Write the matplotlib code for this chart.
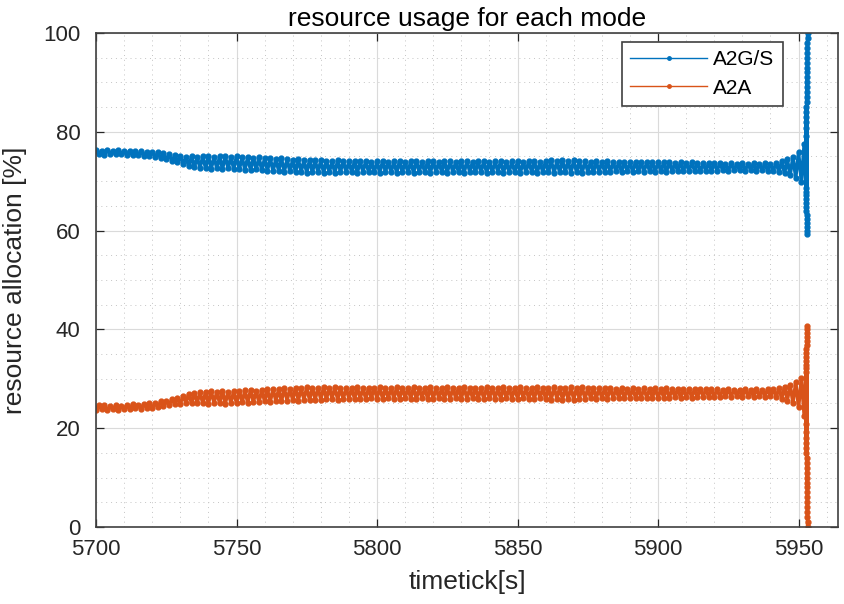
#!/usr/bin/env python3
"""
Resource usage per mode (A2G/S vs A2A) over simulation time.
"""

import numpy as np
import matplotlib
matplotlib.use('Agg')
import matplotlib.pyplot as plt
from matplotlib.ticker import MultipleLocator

# A2G/S share [%], one sample per timetick starting at 5700 s
# (values alternate high/low each tick)
a2g_main = [
    76.3, 75.4, 76.2, 75.3, 76.4, 75.5, 76.2, 75.4, 76.3, 75.5,  # 5700
    76.1, 75.3, 76.2, 75.2, 76.0, 75.3, 76.1, 75.1, 75.9, 75.0,  # 5710
    75.9, 74.9, 75.8, 74.6, 75.6, 74.4, 75.4, 74.1, 75.2, 73.8,  # 5720
    75.1, 73.4, 74.9, 73.0, 75.0, 72.8, 74.9, 72.7, 75.0, 72.6,  # 5730
    75.1, 72.5, 74.9, 72.6, 75.0, 72.4, 75.1, 72.6, 74.9, 72.5,  # 5740
    75.0, 72.4, 74.8, 72.3, 74.9, 72.2, 74.7, 72.4, 74.8, 72.2,  # 5750
    74.6, 72.1, 74.7, 72.0, 74.5, 72.1, 74.6, 71.9, 74.4, 72.0,  # 5760
    74.3, 71.8, 74.4, 71.9, 74.2, 71.7, 74.3, 71.8, 74.2, 71.8,  # 5770
    74.2, 71.7, 74.1, 71.8, 74.0, 71.7, 74.2, 71.9, 74.1, 71.8,  # 5780
    74.0, 71.8, 74.1, 71.7, 74.0, 71.9, 74.1, 71.8, 73.9, 71.8,  # 5790
    74.0, 71.7, 74.1, 71.9, 73.9, 71.8, 74.0, 71.7, 74.1, 71.8,  # 5800
    73.9, 71.8, 74.0, 71.7, 74.1, 71.9, 73.9, 71.8, 74.0, 71.7,  # 5810
    74.1, 71.8, 73.9, 71.9, 74.0, 71.7, 74.1, 71.8, 73.9, 71.8,  # 5820
    74.0, 71.7, 74.1, 71.9, 73.9, 71.8, 74.0, 71.8, 74.1, 71.7,  # 5830
    73.9, 71.8, 74.0, 71.9, 74.1, 71.7, 73.9, 71.8, 74.0, 71.8,  # 5840
    74.0, 71.7, 73.9, 71.8, 74.1, 71.9, 74.0, 71.7, 73.9, 71.8,  # 5850
    74.1, 71.8, 74.2, 71.7, 74.0, 71.8, 74.2, 71.9, 74.1, 71.7,  # 5860
    74.2, 71.8, 74.0, 71.7, 74.1, 71.9, 73.9, 71.8, 74.0, 71.9,  # 5870
    73.9, 71.9, 74.0, 71.8, 73.9, 72.0, 73.8, 71.9, 73.9, 72.0,  # 5880
    73.8, 71.9, 73.9, 72.0, 73.8, 71.9, 73.9, 72.0, 73.8, 71.9,  # 5890
    73.9, 72.0, 73.8, 71.9, 73.9, 72.0, 73.7, 72.0, 73.8, 72.1,  # 5900
    73.7, 72.0, 73.8, 72.1, 73.7, 72.0, 73.6, 72.1, 73.7, 72.1,  # 5910
    73.6, 72.1, 73.7, 72.2, 73.5, 72.1, 73.6, 72.2, 73.5, 72.2,  # 5920
    73.6, 72.1, 73.5, 72.2, 73.7, 72.0, 73.5, 72.2, 73.6, 72.1,  # 5930
    73.5, 72.1, 73.7, 71.9, 74.0, 71.6, 74.4, 71.2, 74.9, 70.7,  # 5940
    75.8, 69.9, 77.5,                                            # 5950
]

# divergence in the last second (very fine time steps around 5953 s)
a2g_tail = [
    68.6, 79.2, 67.8, 80.8, 67.2, 82.0, 66.4, 83.0, 65.6, 84.0,
    64.8, 85.0, 64.0, 86.0, 63.2, 87.0, 62.4, 88.0, 61.6, 89.0,
    60.8, 90.0, 60.0, 91.0, 59.4, 92.0, 93.0, 94.0, 95.0, 96.0,
    97.0, 98.0, 99.0, 100.0,
]

t_start = 5700
tail_span = (5952.6, 5953.2)

x_ticks = [5700, 5750, 5800, 5850, 5900, 5950]
y_ticks = [0, 20, 40, 60, 80, 100]

BLUE = '#0072BD'
ORANGE = '#D95319'
AXC = '#262626'


def build_series():
    t_main = t_start + np.arange(len(a2g_main))
    t_tail = np.linspace(tail_span[0], tail_span[1], len(a2g_tail))
    t = np.concatenate([t_main, t_tail])
    a2g = np.array(a2g_main + a2g_tail)
    # the two modes share the whole resource, so A2A is the complement
    a2a = 100.0 - a2g
    return t, a2g, a2a


def create_plot():
    plt.rcParams['font.family'] = ['Liberation Sans', 'DejaVu Sans']
    t, a2g, a2a = build_series()

    fig = plt.figure(figsize=(8.45, 6.04), dpi=100)
    ax = fig.add_axes([0.1136, 0.1275, 0.878, 0.818])

    ax.plot(t, a2g, '.-', color=BLUE, lw=2.5, ms=7, label='A2G/S')
    ax.plot(t, a2a, '.-', color=ORANGE, lw=2.5, ms=7, label='A2A')

    ax.set_xlim(5700, 5964)
    ax.set_ylim(0, 100)
    ax.set_xticks(x_ticks)
    ax.set_yticks(y_ticks)
    ax.xaxis.set_minor_locator(MultipleLocator(10))
    ax.yaxis.set_minor_locator(MultipleLocator(5))

    ax.set_axisbelow(True)
    ax.grid(which='major', color='#dadada', lw=0.8)
    ax.grid(which='minor', color='#c4c4c4', ls=(0, (1, 4)), lw=0.7)

    ax.tick_params(which='major', direction='in', top=True, right=True,
                   length=6, width=0.9, color=AXC, labelcolor=AXC,
                   labelsize=16)
    ax.tick_params(axis='x', pad=9)
    ax.tick_params(axis='y', pad=11)
    ax.tick_params(which='minor', length=0)
    for sp in ax.spines.values():
        sp.set_color('#404040')
        sp.set_linewidth(1.2)

    ax.set_title('resource usage for each mode', fontsize=19, color='black', pad=5)
    ax.set_xlabel('timetick[s]', fontsize=19, color=AXC)
    ax.set_ylabel('resource allocation [%]', fontsize=19, color=AXC)
    ax.xaxis.set_label_coords(0.5, -0.088)
    ax.yaxis.set_label_coords(-0.093, 0.5)

    leg = ax.legend(loc='upper right', bbox_to_anchor=(0.926, 0.982),
                    borderaxespad=0, fontsize=15, handlelength=3.7,
                    handletextpad=0.3, labelspacing=0.45, fancybox=False,
                    framealpha=1, edgecolor='#404040')
    leg.get_frame().set_linewidth(1.2)
    for line in leg.get_lines():
        line.set_linewidth(1.0)
        line.set_markersize(5)

    fig.savefig('out.png', dpi=100)
    plt.close(fig)
    print("Created out.png")


if __name__ == "__main__":
    create_plot()
